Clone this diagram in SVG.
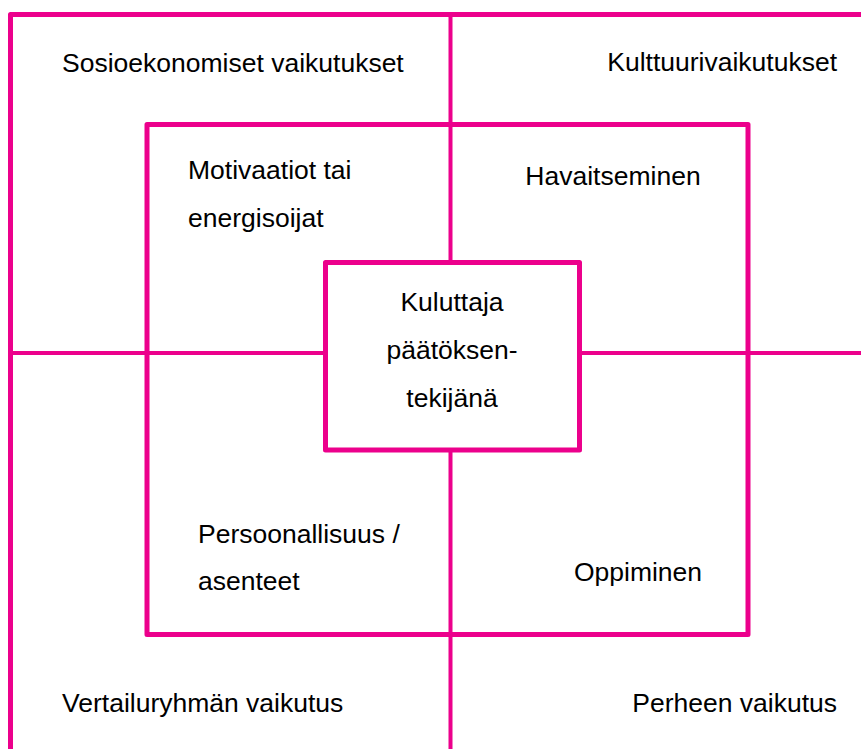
<svg xmlns="http://www.w3.org/2000/svg" width="861" height="749" viewBox="0 0 861 749">
<style>
.ln{stroke:#EC008C;fill:none;stroke-linejoin:round}
.b{stroke-width:5}
.t{stroke-width:4}
text{font-family:"Liberation Sans",Arial,sans-serif;font-size:26.5px;fill:#000}
.m{text-anchor:middle}
.e{text-anchor:end}
</style>
<rect width="861" height="749" fill="#fff"/>
<g id="outer-frame">
<path class="ln b" d="M10.5 749 V14.5 H861"/>
</g>
<g id="connectors">
<path class="ln t" d="M450.5 14.5 V262.5 M450.5 450 V749 M10.5 353 H325.5 M579.5 353 H861"/>
</g>
<g id="middle-box">
<rect class="ln b" x="147" y="124.5" width="601" height="510"/>
</g>
<g id="center-node">
<rect class="ln b" x="325.5" y="262.5" width="254" height="187.5"/>
<text class="m" x="452" y="311">Kuluttaja</text>
<text class="m" x="452" y="359">päätöksen-</text>
<text class="m" x="452" y="407">tekijänä</text>
</g>
<g id="n-sosio"><text x="62" y="72">Sosioekonomiset vaikutukset</text></g>
<g id="n-kulttuuri"><text class="e" x="837" y="71">Kulttuurivaikutukset</text></g>
<g id="n-motivaatiot"><text x="188" y="179">Motivaatiot tai</text><text x="188" y="227">energisoijat</text></g>
<g id="n-havaitseminen"><text class="m" x="613" y="185">Havaitseminen</text></g>
<g id="n-persoonallisuus"><text x="198" y="543">Persoonallisuus /</text><text x="198" y="590">asenteet</text></g>
<g id="n-oppiminen"><text class="m" x="638" y="581">Oppiminen</text></g>
<g id="n-vertailu"><text x="62" y="712">Vertailuryhmän vaikutus</text></g>
<g id="n-perhe"><text class="e" x="837" y="712">Perheen vaikutus</text></g>
</svg>
